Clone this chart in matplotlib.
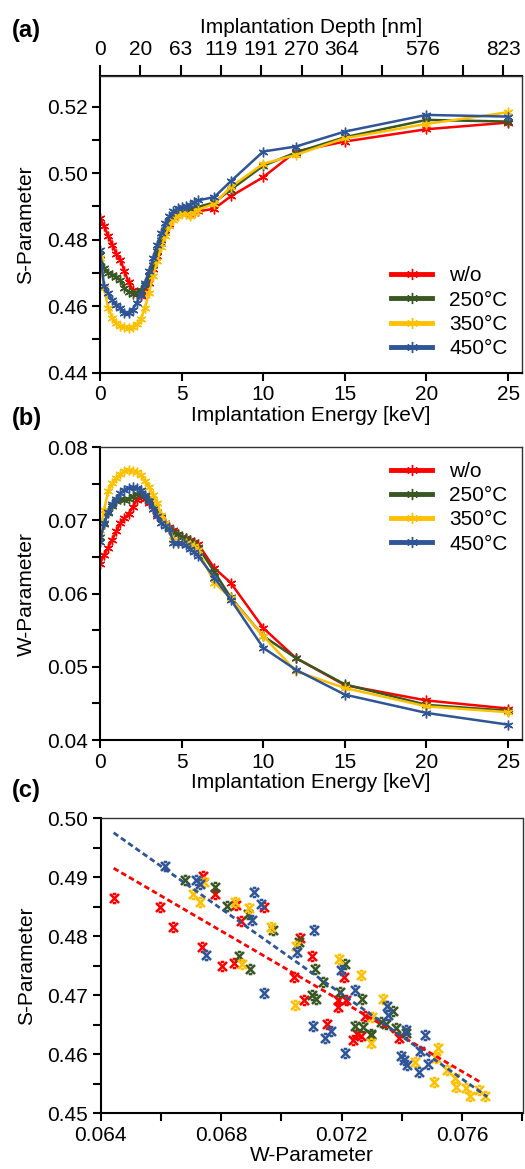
import matplotlib.pyplot as plt
import numpy as np
from matplotlib.lines import Line2D
from matplotlib.path import Path
from matplotlib.ticker import MultipleLocator, FormatStrFormatter

plt.rcParams['font.family'] = ['Liberation Sans', 'DejaVu Sans']
plt.rcParams['font.size'] = 15

# ---- data ----
energy = [0, 0.25, 0.5, 0.75, 1.0, 1.25, 1.5, 1.75, 2.0, 2.25, 2.5, 2.75, 3.0,
          3.25, 3.5, 3.75, 4.0, 4.25, 4.5, 4.75, 5.0, 5.25, 5.5, 5.75, 6.0,
          7, 8, 10, 12, 15, 20, 25]

s_wo = [0.4865, 0.4840, 0.4812, 0.4785, 0.4758, 0.4740, 0.4705, 0.4672, 0.4650,
        0.4638, 0.4632, 0.4645, 0.4670, 0.4712, 0.4752, 0.4790, 0.4822, 0.4848,
        0.4868, 0.4880, 0.4885, 0.4882, 0.4878, 0.4880, 0.4885,
        0.4893, 0.4930, 0.4988, 0.5065, 0.5095, 0.5132, 0.5152]
s_250 = [0.4755, 0.4715, 0.4700, 0.4695, 0.4688, 0.4678, 0.4655, 0.4642, 0.4638,
         0.4640, 0.4650, 0.4665, 0.4690, 0.4725, 0.4765, 0.4800, 0.4830, 0.4855,
         0.4872, 0.4882, 0.4888, 0.4890, 0.4893, 0.4895, 0.4898,
         0.4912, 0.4950, 0.5022, 0.5062, 0.5108, 0.5160, 0.5155]
s_350 = [0.4745, 0.4655, 0.4595, 0.4565, 0.4548, 0.4540, 0.4536, 0.4533, 0.4538,
         0.4545, 0.4560, 0.4595, 0.4640, 0.4690, 0.4735, 0.4778, 0.4812, 0.4840,
         0.4860, 0.4872, 0.4880, 0.4878, 0.4870, 0.4880, 0.4890,
         0.4908, 0.4958, 0.5028, 0.5055, 0.5105, 0.5148, 0.5183]
s_450 = [0.4768, 0.4660, 0.4640, 0.4618, 0.4605, 0.4595, 0.4580, 0.4580, 0.4590,
         0.4610, 0.4635, 0.4670, 0.4705, 0.4745, 0.4785, 0.4820, 0.4850, 0.4870,
         0.4885, 0.4895, 0.4898, 0.4900, 0.4905, 0.4912, 0.4918,
         0.4928, 0.4975, 0.5065, 0.5080, 0.5125, 0.5175, 0.5170]

w_wo = [0.0641, 0.0653, 0.0663, 0.0674, 0.0685, 0.0697, 0.0703, 0.0709, 0.0718,
        0.0728, 0.0732, 0.0730, 0.0724, 0.0716, 0.0709, 0.0703, 0.0696, 0.0691,
        0.0687, 0.0682, 0.0678, 0.0676, 0.0674, 0.0671, 0.0668,
        0.0635, 0.0615, 0.0553, 0.0512, 0.0475, 0.0454, 0.0443]
w_250 = [0.0678, 0.0695, 0.0710, 0.0720, 0.0727, 0.0730, 0.0728, 0.0730, 0.0733,
         0.0736, 0.0737, 0.0734, 0.0728, 0.0720, 0.0712, 0.0705, 0.0697, 0.0690,
         0.0684, 0.0681, 0.0678, 0.0676, 0.0672, 0.0669, 0.0664,
         0.0630, 0.0595, 0.0542, 0.0512, 0.0476, 0.0448, 0.0440]
w_350 = [0.0687, 0.0714, 0.0740, 0.0751, 0.0758, 0.0763, 0.0767, 0.0769, 0.0768,
         0.0766, 0.0762, 0.0754, 0.0746, 0.0735, 0.0724, 0.0708, 0.0697, 0.0688,
         0.0674, 0.0669, 0.0669, 0.0669, 0.0667, 0.0665, 0.0660,
         0.0615, 0.0594, 0.0542, 0.0494, 0.0471, 0.0446, 0.0438]
w_450 = [0.0671, 0.0696, 0.0712, 0.0722, 0.0729, 0.0737, 0.0742, 0.0745, 0.0746,
         0.0745, 0.0742, 0.0735, 0.0726, 0.0716, 0.0706, 0.0697, 0.0692, 0.0688,
         0.0669, 0.0669, 0.0669, 0.0666, 0.0661, 0.0657, 0.0652,
         0.0622, 0.0592, 0.0526, 0.0496, 0.0462, 0.0437, 0.0421]

depth_labels = ['0', '20', '63', '119', '191', '270', '364', '', '576', '', '823']

# panel (c): W / S pairs
sc_wo_w = [0.06443, 0.06598, 0.06639, 0.06741, 0.06781, 0.06737, 0.06801, 0.06849,
           0.06841, 0.06867, 0.06941, 0.07062, 0.07100, 0.07042, 0.07075, 0.07151,
           0.07206, 0.07186, 0.07186, 0.07214, 0.07239, 0.07252, 0.07265, 0.07276, 0.07390]
sc_wo_s = [0.4865, 0.4849, 0.4816, 0.4902, 0.4872, 0.4782, 0.4749, 0.4853,
           0.4754, 0.4826, 0.4850, 0.4796, 0.4766, 0.4731, 0.4692, 0.4652,
           0.4730, 0.4692, 0.4680, 0.4692, 0.4624, 0.4634, 0.4631, 0.4664, 0.4628]
sc_250_w = [0.06679, 0.06781, 0.06818, 0.06860, 0.06896, 0.06888, 0.06971, 0.07059,
            0.07100, 0.07116, 0.07112, 0.07138, 0.07210, 0.07195, 0.07266, 0.07244,
            0.07272, 0.07298, 0.07298, 0.07329, 0.07371, 0.07346, 0.07381, 0.07414]
sc_250_s = [0.4895, 0.4883, 0.4851, 0.4766, 0.4745, 0.4838, 0.4811, 0.4790,
            0.4700, 0.4694, 0.4745, 0.4723, 0.4753, 0.4706, 0.4693, 0.4647,
            0.4646, 0.4635, 0.4632, 0.4655, 0.4673, 0.4652, 0.4645, 0.4636]
sc_350_w = [0.06744, 0.06706, 0.06730, 0.06847, 0.06868, 0.06891, 0.06965, 0.07048,
            0.07045, 0.07191, 0.07263, 0.07296, 0.07302, 0.07338, 0.07443, 0.07520,
            0.07512, 0.07506, 0.07550, 0.07576, 0.07578, 0.07611, 0.07627, 0.07655, 0.07675]
sc_350_s = [0.4892, 0.4872, 0.4858, 0.4858, 0.4753, 0.4847, 0.4816, 0.4784,
            0.4683, 0.4761, 0.4734, 0.4619, 0.4663, 0.4693, 0.4587, 0.4610,
            0.4594, 0.4553, 0.4573, 0.4559, 0.4545, 0.4542, 0.4529, 0.4540, 0.4529]
sc_450_w = [0.06615, 0.06717, 0.06731, 0.06748, 0.06902, 0.06908, 0.06932, 0.06941,
            0.07051, 0.07109, 0.07103, 0.07166, 0.07145, 0.07210, 0.07199, 0.07243,
            0.07351, 0.07354, 0.07412, 0.07396, 0.07407, 0.07418, 0.07456, 0.07460,
            0.07478, 0.07487]
sc_450_s = [0.4919, 0.4895, 0.4889, 0.4768, 0.4828, 0.4875, 0.4854, 0.4703,
            0.4773, 0.4811, 0.4647, 0.4640, 0.4627, 0.4602, 0.4742, 0.4708,
            0.4682, 0.4666, 0.4641, 0.4597, 0.4590, 0.4581, 0.4570, 0.4606,
            0.4632, 0.4583]

# linear fits (end points)
fit_wo_w = [0.06443, 0.07666]
fit_wo_s = [0.4915, 0.4551]
fit_450_w = [0.06443, 0.07683]
fit_450_s = [0.4975, 0.4528]

labels = ['w/o', '250°C', '350°C', '450°C']
colors = ['#ff0000', '#385723', '#ffc000', '#2f5597']

# ---- figure ----
fig = plt.figure(figsize=(5.25, 11.69), dpi=100)
FW, FH = 525.0, 1169.0


def box(l, t, r, b):
    return [l / FW, 1 - b / FH, (r - l) / FW, (b - t) / FH]


ax1 = fig.add_axes(box(100, 76, 522, 372.7))
ax2 = fig.add_axes(box(100, 447.3, 522, 740))
ax3 = fig.add_axes(box(100.7, 818, 522.5, 1113.3))

star = (6, 2, 0)
# x with short caps top and bottom, like the original symbol
xbar = Path([(-1, -1), (1, 1), (-1, 1), (1, -1), (-0.4, 1), (0.4, 1), (-0.4, -1), (0.4, -1)],
            [Path.MOVETO, Path.LINETO, Path.MOVETO, Path.LINETO,
             Path.MOVETO, Path.LINETO, Path.MOVETO, Path.LINETO])


def style(ax):
    for side in ['left', 'bottom']:
        ax.spines[side].set_linewidth(1.5)
    for side in ['top', 'right']:
        ax.spines[side].set_linewidth(1.0)
        ax.spines[side].set_color('#333333')
    ax.tick_params(which='both', direction='out', length=6, width=1.5, pad=3)


s_all = [s_wo, s_250, s_350, s_450]
w_all = [w_wo, w_250, w_350, w_450]

for s, c in zip(s_all, colors):
    ax1.plot(energy, s, color=c, lw=1.8, marker=star, ms=7, mew=1.0)
for w, c in zip(w_all, colors):
    ax2.plot(energy, w, color=c, lw=1.8, marker=star, ms=7, mew=1.0)

handles = [Line2D([0], [0], color=c, lw=3.5, marker=star, ms=8, mew=1.0) for c in colors]

# (a)
style(ax1)
ax1.set_xlim(0, 25.85)
ax1.set_ylim(0.44, 0.5292)
ax1.set_xticks([0, 5, 10, 15, 20, 25])
ax1.yaxis.set_major_locator(MultipleLocator(0.02))
ax1.yaxis.set_minor_locator(MultipleLocator(0.01))
ax1.yaxis.set_major_formatter(FormatStrFormatter('%.2f'))
ax1.set_xlabel('Implantation Energy [keV]', labelpad=1)
ax1.set_ylabel('S-Parameter', labelpad=8)
top = ax1.secondary_xaxis('top')
top.set_xticks(np.arange(11) * 2.47, labels=depth_labels)
top.tick_params(direction='out', length=8, width=1.5, pad=4)
top.spines['top'].set_linewidth(1.5)
top.set_xlabel('Implantation Depth [nm]', labelpad=5)
ax1.legend(handles, labels, loc='lower right', frameon=False, handlelength=2.0,
           handletextpad=0.8, labelspacing=0.25, borderaxespad=0.3)

# (b)
style(ax2)
ax2.set_xlim(0, 25.85)
ax2.set_ylim(0.04, 0.08)
ax2.set_xticks([0, 5, 10, 15, 20, 25])
ax2.yaxis.set_major_locator(MultipleLocator(0.01))
ax2.yaxis.set_minor_locator(MultipleLocator(0.005))
ax2.yaxis.set_major_formatter(FormatStrFormatter('%.2f'))
ax2.set_xlabel('Implantation Energy [keV]', labelpad=1)
ax2.set_ylabel('W-Parameter', labelpad=8)
ax2.legend(handles, labels, loc='upper right', frameon=False, handlelength=2.0,
           handletextpad=0.8, labelspacing=0.25, borderaxespad=0.3)

# (c)
style(ax3)
sc_w = [sc_wo_w, sc_250_w, sc_350_w, sc_450_w]
sc_s = [sc_wo_s, sc_250_s, sc_350_s, sc_450_s]
for w, s, c in zip(sc_w, sc_s, colors):
    ax3.plot(w, s, ls='none', marker=xbar, ms=6.5, mew=1.8, color=c, mfc='none')
ax3.plot(fit_wo_w, fit_wo_s, color=colors[0], lw=2, ls=(0, (2, 1.2)))
ax3.plot(fit_450_w, fit_450_s, color=colors[3], lw=2, ls=(0, (2, 1.2)))
ax3.set_xlim(0.064, 0.078)
ax3.set_ylim(0.45, 0.50)
ax3.set_xticks([0.064, 0.068, 0.072, 0.076])
ax3.xaxis.set_minor_locator(MultipleLocator(0.002))
ax3.xaxis.set_major_formatter(FormatStrFormatter('%.3f'))
ax3.yaxis.set_major_locator(MultipleLocator(0.01))
ax3.yaxis.set_minor_locator(MultipleLocator(0.005))
ax3.yaxis.set_major_formatter(FormatStrFormatter('%.2f'))
ax3.set_xlabel('W-Parameter', labelpad=1)
ax3.set_ylabel('S-Parameter', labelpad=8)

for txt, y in [('(a)', 30), ('(b)', 418), ('(c)', 790)]:
    fig.text(12 / FW, 1 - y / FH, txt, fontsize=17, fontweight='bold', va='center')

fig.savefig('out.png', dpi=100)
